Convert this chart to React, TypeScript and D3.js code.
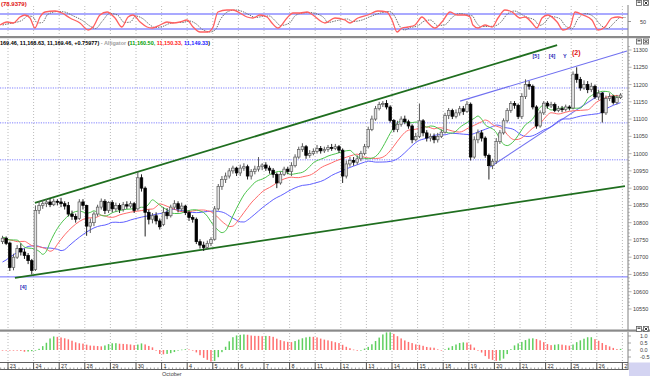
import React from "react";
import * as d3 from "d3";

// ---------- DATA ----------
// trading days, index 0 = Sep 23 (day -1 = Sep 22, only its last 2 hourly bars shown)
const dayLabels = ["23","24","27","28","29","30","1","4","5","6","7","8","11","12","13","14","15","18","19","20","21","22","25","26","27"];
const monthLabel = "October";
const monthDayIndex = 6;

// hourly bars (7 per day), starting with Sep 22 bars 6 and 7
const opens = [
  10745,10755,
  10741,10670,10700,10725,10715,10705,10690,
  10664,10835,10850,10855,10860,10852,10862,
  10860,10855,10850,10825,10818,10812,10860,
  10850,10790,10800,10825,10845,10862,10835,
  10858,10840,10850,10838,10852,10848,10855,
  10840,10930,10900,10830,10810,10820,10805,
  10795,10830,10820,10845,10855,10840,10848,
  10829,10815,10810,10745,10735,10728,10740,
  10752,10840,10905,10925,10935,10950,10958,
  10944,10958,10962,10935,10948,10955,10962,
  10967,10958,10952,10940,10915,10940,10955,
  10948,10965,10990,11012,11020,10995,11000,
  11006,11015,11008,11012,11018,11015,11020,
  11010,10935,10970,10980,10975,10985,11000,
  11020,11070,11100,11130,11142,11145,11135,
  11096,11070,11085,11100,11092,11080,11040,
  11050,11095,11060,11045,11050,11040,11050,
  11062,11110,11125,11108,11118,11130,11122,
  11143,10990,11040,11060,11045,10995,10965,
  10978,11035,11060,11095,11125,11145,11140,
  11107,11165,11200,11195,11135,11080,11118,
  11146,11138,11142,11125,11130,11128,11135,
  11132,11230,11215,11190,11200,11185,11195,
  11164,11175,11118,11160,11165,11148,11162,
];
const highs = [
  10762,10760,
  10745,10710,10735,10740,10725,10712,10695,
  10850,10862,10865,10868,10870,10870,10868,
  10872,10862,10860,10835,10826,10868,10868,
  10852,10812,10832,10852,10870,10868,10862,
  10865,10858,10856,10860,10862,10862,10860,
  10948,10940,10905,10838,10828,10830,10812,
  10845,10842,10852,10865,10862,10858,10852,
  10835,10822,10815,10752,10745,10748,10758,
  10848,10912,10935,10945,10958,10965,10962,
  10968,10972,10968,10955,10965,10990,10972,
  10975,10965,10958,10945,10948,10962,10962,
  10975,10998,11020,11030,11025,11010,11015,
  11025,11022,11020,11025,11028,11028,11025,
  11015,10980,10990,10990,10995,11008,11028,
  11078,11110,11138,11150,11152,11155,11140,
  11100,11095,11108,11110,11098,11085,11060,
  11145,11100,11068,11058,11058,11060,11070,
  11118,11132,11130,11128,11138,11138,11152,
  11148,11050,11070,11068,11050,11000,10985,
  11045,11068,11102,11132,11152,11152,11145,
  11175,11215,11210,11200,11140,11125,11152,
  11152,11150,11148,11138,11138,11142,11140,
  11238,11250,11222,11212,11210,11205,11200,
  11185,11178,11168,11175,11170,11170,11175,
];
const lows = [
  10738,10735,
  10660,10662,10695,10705,10695,10680,10650,
  10660,10825,10840,10845,10845,10848,10850,
  10845,10838,10818,10808,10800,10808,10838,
  10762,10770,10790,10818,10838,10825,10828,
  10830,10832,10828,10832,10840,10842,10828,
  10835,10890,10760,10795,10798,10795,10780,
  10790,10810,10815,10838,10830,10832,10822,
  10805,10800,10738,10725,10718,10722,10732,
  10748,10835,10895,10915,10928,10942,10935,
  10935,10950,10925,10925,10940,10948,10952,
  10950,10942,10930,10900,10910,10935,10940,
  10935,10960,10985,11005,10985,10988,10995,
  11000,11000,11002,11005,11008,11010,11002,
  10915,10928,10962,10965,10968,10978,10995,
  11015,11065,11095,11125,11135,11128,11090,
  11062,11062,11078,11085,11072,11030,11035,
  11045,11050,11035,11035,11030,11032,11045,
  11058,11100,11100,11102,11110,11112,11118,
  10980,10985,11030,11035,10988,10925,10955,
  10970,11028,11055,11090,11118,11130,11100,
  11100,11158,11185,11128,11072,11075,11112,
  11130,11132,11120,11120,11120,11122,11125,
  11128,11205,11182,11185,11175,11178,11158,
  11155,11090,11112,11152,11142,11142,11158,
];
const closes = [
  10755,10740,
  10670,10700,10725,10715,10705,10690,10662,
  10835,10850,10855,10860,10852,10862,10860,
  10855,10848,10825,10818,10810,10860,10850,
  10790,10800,10825,10845,10862,10835,10858,
  10840,10850,10838,10852,10848,10855,10835,
  10930,10900,10830,10810,10820,10805,10788,
  10830,10820,10845,10855,10840,10848,10829,
  10815,10810,10745,10735,10728,10740,10751,
  10840,10905,10925,10935,10950,10958,10944,
  10958,10962,10935,10948,10955,10962,10967,
  10958,10952,10940,10915,10940,10955,10948,
  10965,10990,11012,11020,10995,11000,11006,
  11015,11008,11012,11018,11015,11020,11010,
  10935,10970,10980,10975,10985,11000,11020,
  11070,11100,11130,11142,11145,11135,11096,
  11070,11085,11100,11092,11080,11040,11050,
  11095,11060,11045,11050,11040,11050,11062,
  11110,11125,11108,11118,11130,11122,11143,
  10990,11040,11060,11045,10995,10965,10978,
  11035,11060,11095,11125,11145,11140,11107,
  11165,11200,11195,11135,11080,11118,11146,
  11138,11142,11125,11130,11128,11135,11132,
  11230,11215,11190,11200,11185,11195,11164,
  11175,11118,11160,11165,11148,11162,11169.46,
];

// Alligator line values visible at the left edge (before the data's own smoothing takes over)
const lipsLead = [10758, 10755, 10750];
const teethLead = [10752, 10752, 10750, 10748, 10745];
const jawLead = [10686, 10692, 10700, 10707, 10714, 10720, 10726, 10731];

// Stochastic %K (time in trading days, value 0-100)
const stochT = [-0.31,-0.04,0.2,0.47,0.66,0.86,1.05,1.25,1.45,1.84,2.11,2.42,2.81,3.13,3.32,3.59,3.87,4.18,4.45,4.69,4.88,5.16,5.43,5.63,5.94,6.21,6.45,6.72,6.99,7.23,7.5,7.81,8.01,8.2,8.55,8.79,9.06,9.34,9.57,9.84,10.12,10.31,10.55,10.9,11.13,11.41,11.68,11.91,12.27,12.38,12.77,13.16,13.36,13.67,14.06,14.45,14.8,15.0,15.2,15.39,15.63,15.9,16.17,16.41,16.68,16.95,17.27,17.54,17.85,18.05,18.16,18.36,18.63,18.91,19.14,19.41,19.69,20.0,20.2,20.47,20.66,20.86,21.09,21.45,21.68,21.95,22.15,22.46,22.81,23.05,23.32,23.59,23.83,24.02];
const stochK = [36,48,44,68,76,64,24,68,88,92,84,64,44,16,28,76,88,64,28,68,76,48,28,24,36,48,44,48,56,28,8,8,28,88,96,96,84,68,64,76,68,44,24,64,84,84,88,76,48,44,64,56,44,64,76,92,88,56,8,24,28,36,68,44,24,48,88,76,76,68,36,24,36,28,64,96,88,64,68,44,24,64,76,48,16,28,88,76,56,16,28,64,68,64];

const priceTicks = [10550,10600,10650,10700,10750,10800,10850,10900,10950,11000,11050,11100,11150,11200,11250,11300];
const aoTicks = [1.0, 0.5, 0.0, -0.5];
const stochTicks = [50];
const stochBands = [80, 20];
const blueLevels = [11190, 11089, 10982];
const supportLevel = 10643;

// trend lines: [t, price] pairs
const channelUpper = [[1.05, 10857], [21.45, 11314]];
const channelLower = [[0.27, 10640], [24.1, 10906]];
const blueUpper = [[17.66, 11152], [24.18, 11297]];
const blueLower = [[18.83, 10961], [23.32, 11181]];

// wave labels
const waveText = ["[4]", "[5]", "[4]", "Y", "(2)"];
const waveT = [0.6, 20.62, 21.25, 21.75, 22.2];
const wavePrice = [10608, 11278, 11278, 11278, 11286];
const waveColor = ["#2a2ab8", "#2a2ab8", "#2a2ab8", "#2a2ab8", "#e01010"];

const legendParts = [
  { t: "169.46, 11,168.63, 11,169.46, +0.75977)", c: "#000000" },
  { t: " - Alligator ", c: "#a0a0a0" },
  { t: "(", c: "#000000" },
  { t: "11,160.50, ", c: "#00a000" },
  { t: "11,150.33, ", c: "#ff2020" },
  { t: "11,149.33", c: "#2020ff" },
  { t: ")", c: "#000000" },
];
const stochTitle = "(78.9379)";

// ---------- CHART ----------
const W = 650, H = 376;
const PR = 628; // plot right edge
const FONT = "'Liberation Sans', 'DejaVu Sans', sans-serif";

export default function App() {
  const barT = (i: number) => -1 + (i + 5 + 0.5) / 7;
  const x = d3.scaleLinear().domain([0, 24]).range([8, 622.4]);
  const y = d3.scaleLinear().domain([10550, 11300]).range([309, 50]);
  const yS = d3.scaleLinear().domain([0, 100]).range([34, 9]);
  const yA = d3.scaleLinear().domain([-1, 1]).range([364, 336]);
  const aoUnit = 95;

  const medians = highs.map((h, i) => (h + lows[i]) / 2);
  const alligator = (period: number, shift: number, lead: number[]) => {
    let s = lead[lead.length - 1];
    const sm = medians.map((m) => (s = (s * (period - 1) + m) / period));
    return medians.map((_, i) => (i < shift ? lead[i] : sm[i - shift]));
  };
  const jaw = alligator(13, 8, jawLead);
  const teeth = alligator(8, 5, teethLead);
  const lips = alligator(5, 3, lipsLead);

  const ao = medians.map((_, i) => {
    const a = d3.mean(medians.slice(Math.max(0, i - 4), i + 1)) as number;
    const b = d3.mean(medians.slice(Math.max(0, i - 33), i + 1)) as number;
    return a - b;
  });

  const lineP = d3.line<number>().x((_, i) => x(barT(i))).y((v) => y(v)).curve(d3.curveMonotoneX);
  const stochD = stochK.map((v, i) => (i === 0 ? v : (v + stochK[i - 1]) / 2));
  const stochLine = d3.line<number>().x((_, i) => x(stochT[i])).y((v) => yS(v)).curve(d3.curveMonotoneX);
  const stochDLine = d3.line<number>().x((_, i) => x(stochT[i]) + 2.5).y((v) => yS(v)).curve(d3.curveMonotoneX);

  const tl = (pts: number[][]) => ({ x1: x(pts[0][0]), y1: y(pts[0][1]), x2: x(pts[1][0]), y2: y(pts[1][1]) });

  const dayIdx = dayLabels.map((_, i) => i);
  const minor = d3.range(0, 25 * 7).map((k) => -1 + (k + 5) / 7);

  const icon = (yy: number, key: string) => (
    <g key={key}>
      <rect x={636.5} y={yy} width={5} height={5} fill="#fff" stroke="#606060" strokeWidth={0.8} />
      <rect x={637.5} y={yy + 1} width={3} height={1.5} fill="#606060" />
      <rect x={643.5} y={yy} width={5} height={5} fill="#fff" stroke="#606060" strokeWidth={0.8} />
      <path d={`M${644.5},${yy + 1} L${647.5},${yy + 4} M${647.5},${yy + 1} L${644.5},${yy + 4}`} stroke="#202020" strokeWidth={0.9} />
    </g>
  );

  return (
    <svg width={W} height={H} style={{ position: "absolute", left: 0, top: 0, background: "#fff" }} fontFamily={FONT}>
      <defs>
        <clipPath id="cTop"><rect x={0} y={5} width={PR} height={31} /></clipPath>
        <clipPath id="cMain"><rect x={0} y={38} width={PR} height={291} /></clipPath>
        <clipPath id="cBot"><rect x={0} y={332} width={PR} height={30} /></clipPath>
        <clipPath id="cAxis"><rect x={0} y={360} width={PR} height={12} /></clipPath>
      </defs>
      <rect x={0} y={0} width={W} height={H} fill="#ffffff" />

      {/* vertical day grid */}
      {dayIdx.map((d) => (
        <line key={"vg" + d} x1={x(d)} x2={x(d)} y1={6} y2={362} stroke="#a8a8a8" strokeWidth={0.8} strokeDasharray="1,2" />
      ))}

      {/* ---------- TOP: stochastic ---------- */}
      <text x={1} y={5.5} fontSize={6} fill="#e01010" fontWeight="bold">{stochTitle}</text>
      {stochBands.map((b) => (
        <line key={"sb" + b} x1={0} x2={PR} y1={yS(b)} y2={yS(b)} stroke="#8c8cff" strokeWidth={1.6} />
      ))}
      <g clipPath="url(#cTop)">
        <path d={stochDLine(stochD) || ""} fill="none" stroke="#707070" strokeWidth={1} strokeDasharray="1.5,1" />
        <path d={stochLine(stochK) || ""} fill="none" stroke="#ff6060" strokeWidth={1.3} />
      </g>
      <line x1={PR} x2={PR} y1={5} y2={36} stroke="#808080" strokeWidth={1} />
      {stochTicks.map((t) => (
        <g key={"st" + t}>
          <line x1={PR} x2={PR + 3} y1={yS(t)} y2={yS(t)} stroke="#808080" strokeWidth={0.8} />
          <text x={640} y={yS(t) + 2} fontSize={5.5} fill="#404040">{t}</text>
        </g>
      ))}
      {icon(0.5, "i1")}
      <rect x={0} y={36} width={W} height={2.2} fill="#8a8a8a" />

      {/* ---------- MAIN ---------- */}
      <text x={0} y={44.5} fontSize={5.6} fontWeight="bold" textLength={210} lengthAdjust="spacingAndGlyphs">
        {legendParts.map((p, i) => (
          <tspan key={"lg" + i} fill={p.c}>{p.t}</tspan>
        ))}
      </text>
      {icon(39, "i2")}
      {blueLevels.map((b) => (
        <line key={"bl" + b} x1={0} x2={PR} y1={y(b)} y2={y(b)} stroke="#8080ff" strokeWidth={1} strokeDasharray="1.2,1.2" />
      ))}
      <line x1={0} x2={PR} y1={y(supportLevel)} y2={y(supportLevel)} stroke="#7070ff" strokeWidth={1} />
      <g clipPath="url(#cMain)">
        <line {...tl(channelUpper)} stroke="#1f6e1f" strokeWidth={1.8} />
        <line {...tl(channelLower)} stroke="#1f6e1f" strokeWidth={1.8} />
        <line {...tl(blueUpper)} stroke="#7070f0" strokeWidth={1.1} />
        <line {...tl(blueLower)} stroke="#7070f0" strokeWidth={1.1} />
        <path d={lineP(jaw) || ""} fill="none" stroke="#6060ff" strokeWidth={1} />
        <path d={lineP(teeth) || ""} fill="none" stroke="#ff6a6a" strokeWidth={1} />
        <path d={lineP(lips) || ""} fill="none" stroke="#4cc44c" strokeWidth={1} />
        {closes.map((c, i) => {
          const o = opens[i];
          const cx = x(barT(i));
          const up = c >= o;
          const top = y(Math.max(o, c));
          const hgt = Math.max(1, Math.abs(y(o) - y(c)));
          return (
            <g key={"cd" + i}>
              <line x1={cx} x2={cx} y1={y(highs[i])} y2={y(lows[i])} stroke={up ? "#5a5a5a" : "#202020"} strokeWidth={1} />
              <rect x={cx - 1.3} y={top} width={2.6} height={hgt} fill={up ? "#e4e4e4" : "#000000"} stroke={up ? "#5a5a5a" : "#000000"} strokeWidth={0.7} />
            </g>
          );
        })}
        {waveText.map((t, i) => (
          <text key={"wv" + i} x={x(waveT[i])} y={y(wavePrice[i])} fontSize={t === "(2)" ? 7 : 5.5} fontWeight="bold" fill={waveColor[i]} textAnchor="middle">{t}</text>
        ))}
      </g>
      {/* right price axis */}
      <line x1={PR} x2={PR} y1={38} y2={330} stroke="#808080" strokeWidth={1} />
      {d3.range(10550, 11311, 10).map((v) => (
        <line key={"mt" + v} x1={PR} x2={PR + (v % 50 === 0 ? 3.5 : 1.8)} y1={y(v)} y2={y(v)} stroke="#909090" strokeWidth={0.7} />
      ))}
      {priceTicks.map((v) => (
        <text key={"pt" + v} x={633} y={y(v) + 2} fontSize={5.5} fill="#404040">{v}</text>
      ))}
      <rect x={0} y={329.5} width={W} height={2.2} fill="#8a8a8a" />

      {/* ---------- BOTTOM: AO histogram ---------- */}
      {icon(326.5, "i3")}
      <g clipPath="url(#cBot)">
        {ao.map((v, i) => {
          const up = i > 0 && v > ao[i - 1];
          const y0 = yA(0), y1 = yA(v / aoUnit);
          return (
            <rect key={"ao" + i} x={x(barT(i)) - 0.75} width={1.5} y={Math.min(y0, y1)} height={Math.max(0.6, Math.abs(y1 - y0))} fill={up ? "#5fcf5f" : "#ff7070"} />
          );
        })}
      </g>
      <line x1={PR} x2={PR} y1={332} y2={362} stroke="#808080" strokeWidth={1} />
      {aoTicks.map((v) => (
        <g key={"at" + v}>
          <line x1={PR} x2={PR + 3} y1={yA(v)} y2={yA(v)} stroke="#808080" strokeWidth={0.7} />
          <text x={640} y={yA(v) + 2} fontSize={5.5} fill="#404040">{v.toFixed(1)}</text>
        </g>
      ))}

      {/* ---------- X axis ---------- */}
      <line x1={0} x2={PR} y1={362.5} y2={362.5} stroke="#606060" strokeWidth={1} />
      <line x1={0} x2={PR} y1={369.5} y2={369.5} stroke="#606060" strokeWidth={1} />
      <g clipPath="url(#cAxis)">
        {minor.map((t, k) => (
          <line key={"xm" + k} x1={x(t)} x2={x(t)} y1={367.5} y2={369.5} stroke="#707070" strokeWidth={0.7} />
        ))}
        {dayIdx.map((d) => (
          <g key={"xd" + d}>
            <line x1={x(d)} x2={x(d)} y1={362.5} y2={369.5} stroke="#404040" strokeWidth={0.9} />
            <text x={x(d) + 1.8} y={368.3} fontSize={5.5} fill="#303030">{dayLabels[d]}</text>
          </g>
        ))}
      </g>
      <text x={x(monthDayIndex) + 0.5} y={375.5} fontSize={5.5} fill="#404040">{monthLabel}</text>
      <line x1={PR} x2={PR} y1={362} y2={370} stroke="#606060" strokeWidth={1} />
      <rect x={PR + 1} y={362.5} width={W - PR - 1} height={H - 362.5} fill="#d4d4f2" />
    </svg>
  );
}
